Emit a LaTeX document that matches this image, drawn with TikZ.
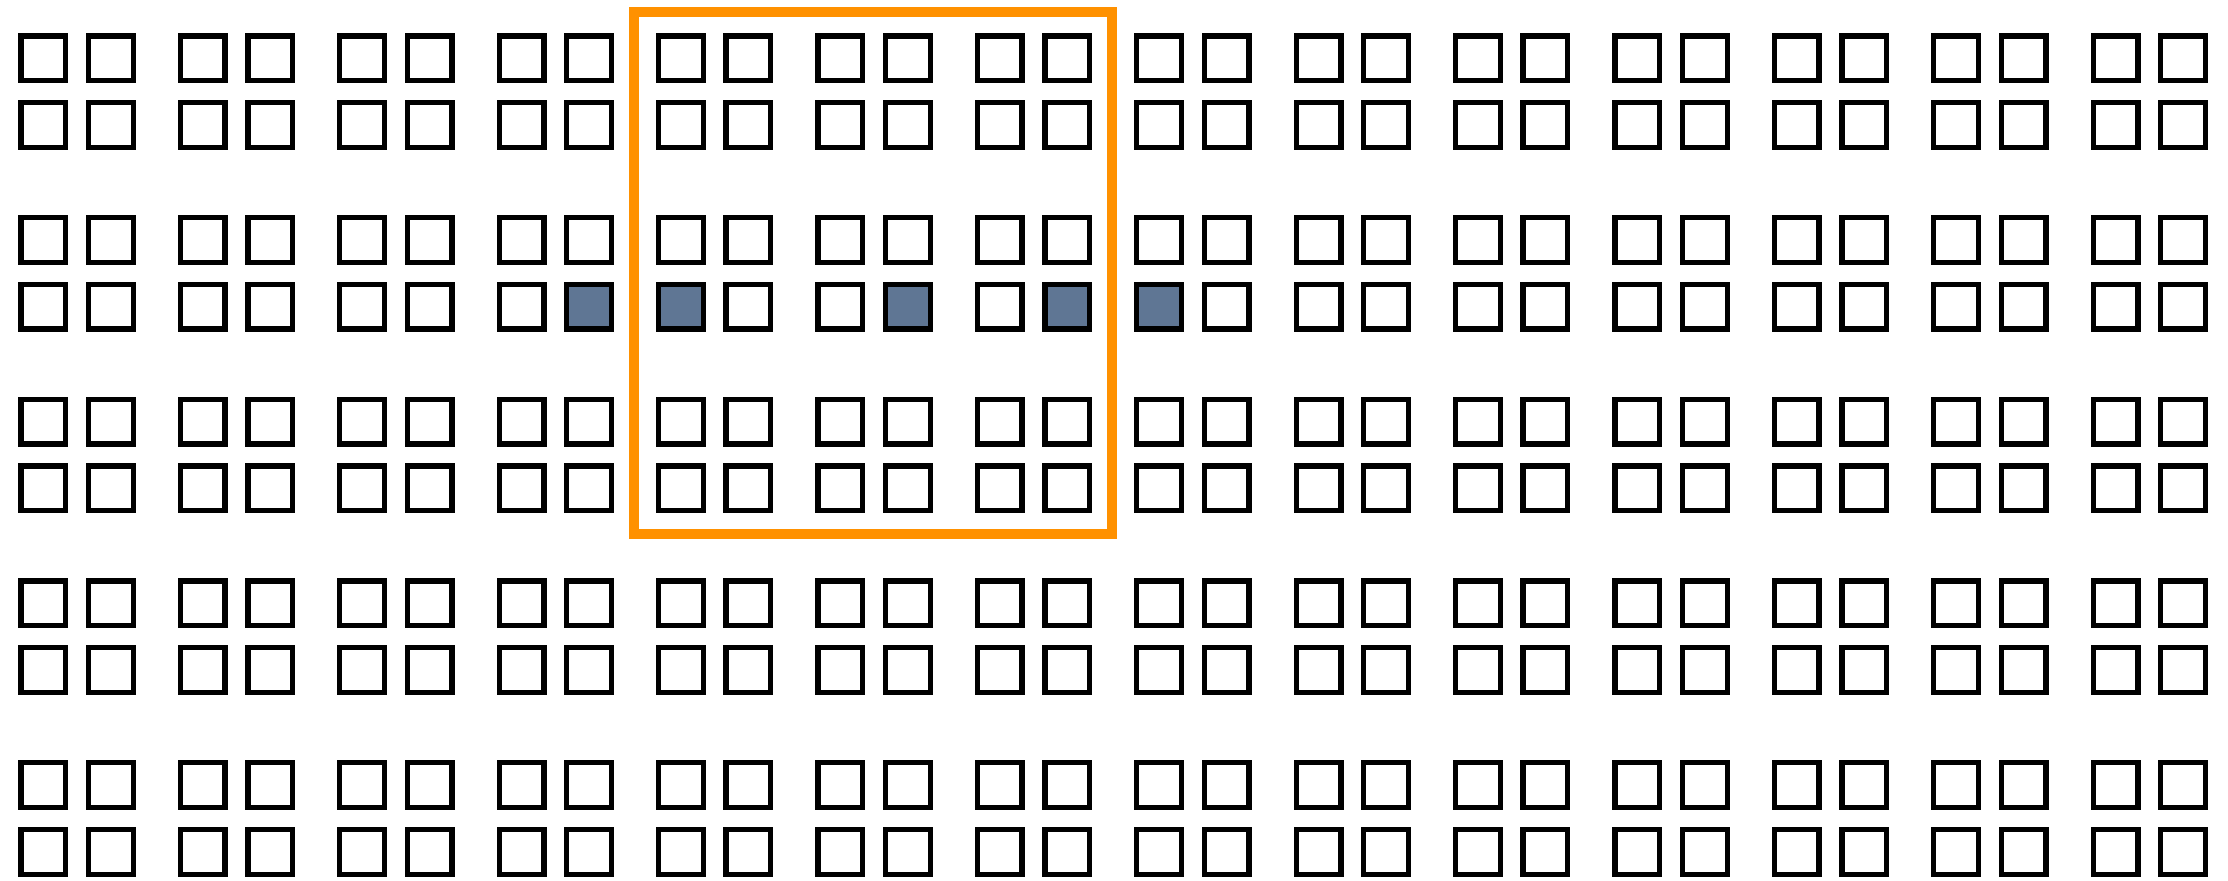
\documentclass[tikz,border=0pt]{standalone}
\definecolor{cellblue}{RGB}{95,118,148}
\definecolor{frameorange}{RGB}{255,145,0}
\begin{document}
\begin{tikzpicture}[x=0.5pt,y=-0.5pt,
  cell/.style={draw=black,line width=2.65pt,minimum size=22.35pt,inner sep=0pt,outer sep=0pt,fill=white},
  hit/.style={cell,fill=cellblue},
  frame/.style={draw=frameorange,line width=5pt}]
\useasboundingbox[fill=white] (0,0) rectangle (2228,880);
\foreach \r in {0,...,9}{
  \foreach \c in {0,...,27}{
    \pgfmathsetmacro\cx{18.3+159.4*int(\c/2)+67.5*mod(\c,2)+25}
    \pgfmathsetmacro\cy{33.3+181.7*int(\r/2)+66.7*mod(\r,2)+25}
    \pgfmathtruncatemacro\isfilled{(\r==3)&&((\c==7)||(\c==8)||(\c==11)||(\c==13)||(\c==14))}
    \ifnum\isfilled=1 \def\sty{hit}\else\def\sty{cell}\fi
    \node[\sty] (s-\r-\c) at (\cx,\cy) {};
  }
}
\coordinate (fa) at (634.3,11.7);
\coordinate (fb) at (1111.7,534.3);
\draw[frame] (fa) rectangle (fb);
\end{tikzpicture}
\end{document}
